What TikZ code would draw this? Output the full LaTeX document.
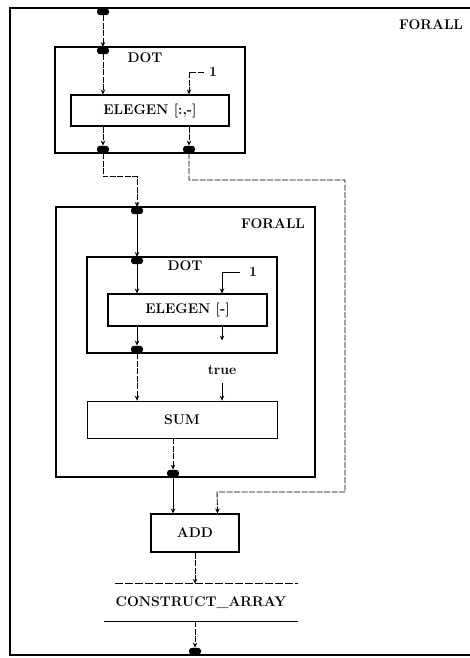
\documentclass[tikz,border=0pt]{standalone}
\usepackage{tikz}
\usetikzlibrary{positioning,arrows.meta,calc}

\begin{document}
\begin{tikzpicture}[
			x=1pt,y=-1pt,
			every node/.style={
				align=center,
				inner sep=0pt,
				font=\bfseries\fontsize{14}{16}\selectfont
			},
			frame/.style={draw,line width=2.2pt},
			box/.style={draw,line width=1.1pt},
			port/.style={fill=black,rounded corners=3pt,minimum width=12pt,minimum height=7pt},
			arrow/.style={-{Stealth[length=5pt,width=4.5pt]},line width=0.9pt},
			wire/.style={arrow,dash pattern=on 6pt off 1.5pt}
			]
			
			\useasboundingbox (0,0) rectangle (470,658);
			
			% outer FORALL
			\draw[line width=1.3pt] (470,8) -- (10,8) -- (10,655) -- (470,655);
			\node (forallA) at (431,25) {FORALL};
			
			% first DOT
			\node[frame,minimum width=190pt,minimum height=106pt] (dotA) at (150,100) {};
			\node[below=7pt of dotA.north,xshift=-5pt] (dotAlbl) {DOT};
			\node[box,minimum width=158pt,minimum height=31pt] (elegenA) at (150,110.5) {ELEGEN [:,-]};
			\node (oneA) at (213,72) {1};
			
			% inner FORALL with DOT and SUM
			\node[frame,minimum width=259pt,minimum height=270pt] (forallB) at (185.5,342) {};
			\node (forallBlbl) at (273,224) {FORALL};
			\node[frame,minimum width=190pt,minimum height=96pt] (dotB) at (182,305) {};
			\node[below=5pt of dotB.north,xshift=3pt] (dotBlbl) {DOT};
			\node[box,minimum width=159pt,minimum height=32pt] (elegenB) at (187.5,310) {ELEGEN [-]};
			\node (oneB) at (253,272) {1};
			\node (truelbl) at (222,370) {true};
			\node[box,line width=0.7pt,minimum width=190pt,minimum height=37pt] (sum) at (182,419.5) {SUM};
			
			% ADD and CONSTRUCT_ARRAY
			\node[box,minimum width=88pt,minimum height=38pt] (add) at (195,533) {ADD};
			\node[minimum width=194pt,minimum height=37pt] (construct) at (201,602.5) {CONSTRUCT\_ARRAY};
			\draw[line width=0.7pt,dash pattern=on 8pt off 2pt] ($(construct.north west)+(11,0)$) -- (construct.north east);
			\draw[line width=1.1pt] (construct.south west) -- (construct.south east);
			
			% ports
			\node[port,anchor=north] (p0) at (103,8) {};
			\node[port,anchor=north] (p1) at (103,47) {};
			\node[port,anchor=south] (p2) at (103,153) {};
			\node[port,anchor=south] (p3) at (189,153) {};
			\node[port,anchor=north] (p4) at (137,207) {};
			\node[port,anchor=north] (p5) at (137,257) {};
			\node[port,anchor=south] (p6) at (137,353) {};
			\node[port,anchor=south] (p7) at (173,477) {};
			\node[port,anchor=south] (p8) at (195,655) {};
			
			% connectors
			\draw[wire] (p0) -- (p1);
			\draw[wire] (p1) -- (elegenA.north -| p1);
			\draw[wire] (oneA.west) ++(-5,0) -| (elegenA.north -| p3);
			\draw[wire] (elegenA.south -| p2) -- (p2);
			\draw[wire] (elegenA.south -| p3) -- (p3);
			\draw[wire] (p2) -- ++(0,27) -| (p4);
			\draw[wire] (p3) |- (345,180) |- (217,492) -- ($(add.north east)+(-22,0)$);
			
			\draw[arrow] (p4) -- (p5);
			\draw[arrow] (p5) -- (elegenB.north -| p5);
			\draw[arrow] (oneB.west) ++(-9,0) -| (elegenB.north -| truelbl);
			\draw[arrow] (elegenB.south -| p6) -- (p6);
			\draw[arrow] (elegenB.south -| truelbl) -- ++(0,14);
			\draw[wire] (p6) -- (sum.north -| p6);
			\draw[arrow] (truelbl.south) ++(0,8) -- (sum.north -| truelbl);
			\draw[wire] (sum.south -| p7) -- (p7);
			
			\draw[arrow] (p7) -- (add.north -| p7);
			\draw[wire] (add.south) -- (construct.north -| add.south);
			\draw[wire] (construct.south -| p8) -- (p8);
			
		\end{tikzpicture}
\end{document}
